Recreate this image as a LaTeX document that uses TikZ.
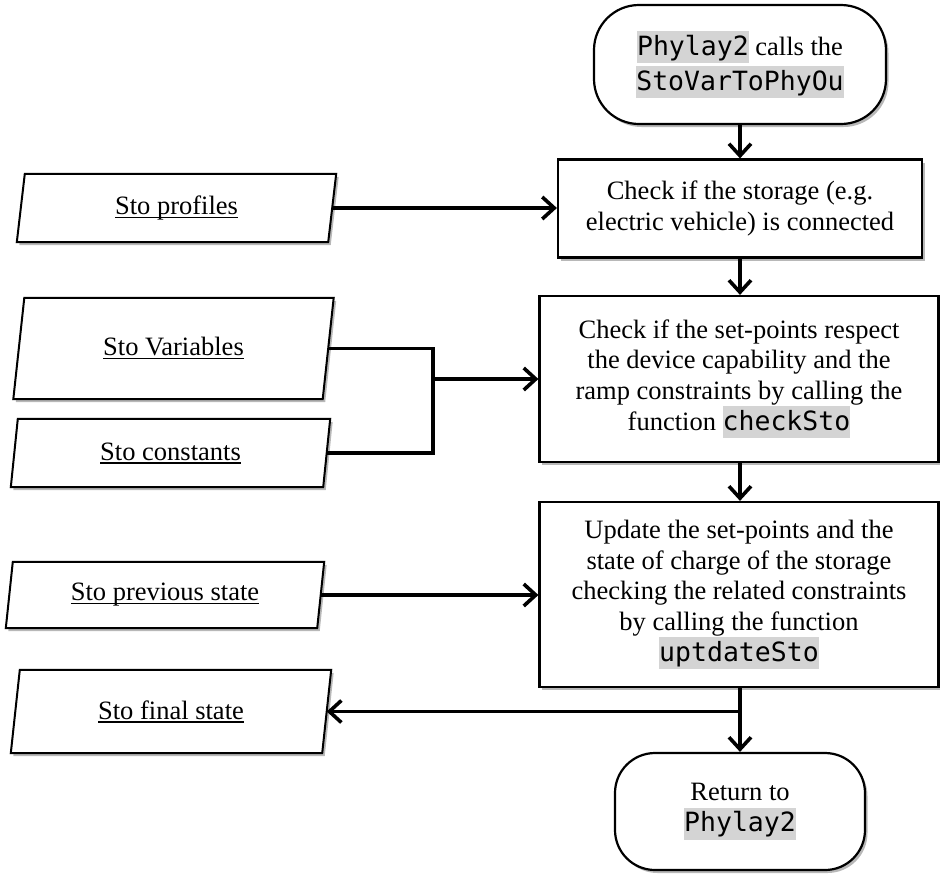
\documentclass[tikz,border=0pt]{standalone}
\usepackage{fontspec}
\setmainfont{Liberation Serif}
\setmonofont{DejaVu Sans Mono}
\usetikzlibrary{arrows.meta,shadows,calc}
\definecolor{hlgray}{gray}{0.83}
\newcommand\hlcode[1]{{\setlength\fboxsep{0pt}\colorbox{hlgray}{\rule[-8pt]{0pt}{32pt}\ttfamily #1}}}
\newcommand\ulx[1]{\setbox0\hbox{#1}\rlap{\rule[-3.5pt]{\wd0}{1.2pt}}\box0}
\tikzset{
  shad/.style={drop shadow={shadow xshift=2.5pt,shadow yshift=-3pt,fill=black,opacity=0.28}},
  txt/.style={font=\fontsize{26.5}{30.7}\selectfont, align=center, inner sep=0pt},
  proc/.style={txt, draw, line width=2.2pt, fill=white, shad},
  term/.style={proc, rounded corners=#1},
  iobox/.style={inner sep=0pt, draw=none},
  para/.style={draw, line width=2pt, fill=white, shad},
  conn/.style={line width=3.6pt},
  arr/.style={conn, -{Straight Barb[length=12pt,width=22pt]}},
}
\newcommand\paraio[6]{%
  \node[iobox, minimum width=#3pt, minimum height=#4pt] (#1) at (#2) {};
  \path[para] ($(#1.north west)+(#5/2,0)$) -- ($(#1.north east)+(#5/2,0)$)
     -- ($(#1.south east)+(-#5/2,0)$) -- ($(#1.south west)+(-#5/2,0)$) -- cycle;
  \node[txt] (#1-t) at (#1.center) {\ulx{#6}};
}
\begin{document}
\begin{tikzpicture}[x=1pt,y=-1pt]
\useasboundingbox (0,0) rectangle (940,876);

% right column
\node[term=45pt, minimum width=292pt, minimum height=119pt] (start) at (740,64.5)
  {\hlcode{Phylay2} calls the\\[2pt]\hlcode{StoVarToPhyOu}};
\node[proc, minimum width=364pt, minimum height=98pt] (c1) at (740,208.5)
  {Check if the storage (e.g.\\electric vehicle) is connected};
\node[proc, minimum width=399pt, minimum height=166pt] (c2) at (739,379)
  {Check if the set-points respect\\the device capability and the\\ramp constraints by calling the\\function \hlcode{checkSto}};
\node[proc, minimum width=399pt, minimum height=185pt] (c3) at (739,594.5)
  {Update the set-points and the\\state of charge of the storage\\checking the related constraints\\by calling the function\\\hlcode{uptdateSto}};
\node[term=40pt, minimum width=250pt, minimum height=117pt] (end) at (740,811.5)
  {Return to\\\hlcode{Phylay2}};

% left column
\paraio{p1}{176.5,208}{311}{68}{8}{Sto profiles}
\paraio{p2}{173.5,348.5}{309}{101}{11}{Sto Variables}
\paraio{p3}{170.5,453}{312}{68}{7}{Sto constants}
\paraio{p4}{165,595}{311}{66}{7}{Sto previous state}
\paraio{p5}{171,711.5}{311}{83}{9}{Sto final state}

% connectors
\draw[arr] (start.south) -- (start.south |- c1.north);
\draw[arr] (c1.south) -- (c1.south |- c2.north);
\draw[arr] (c2.south -| c1.south) -- (c1.south |- c3.north);
\draw[arr] (p1.east) -- (p1.east -| c1.west);
\coordinate (m) at (433,379);
\draw[conn] (p2.east) -| (m) |- (p3.east);
\draw[arr] (m) -- (c2.west);
\draw[arr] (p4.east) -- (p4.east -| c3.west);
\coordinate (j) at (c1.south |- p5.east);
\draw[conn] (c1.south |- c3.south) -- (j);
\draw[arr] (j) -- (end.north);
\draw[arr] (j) -- (p5.east);
\end{tikzpicture}
\end{document}
